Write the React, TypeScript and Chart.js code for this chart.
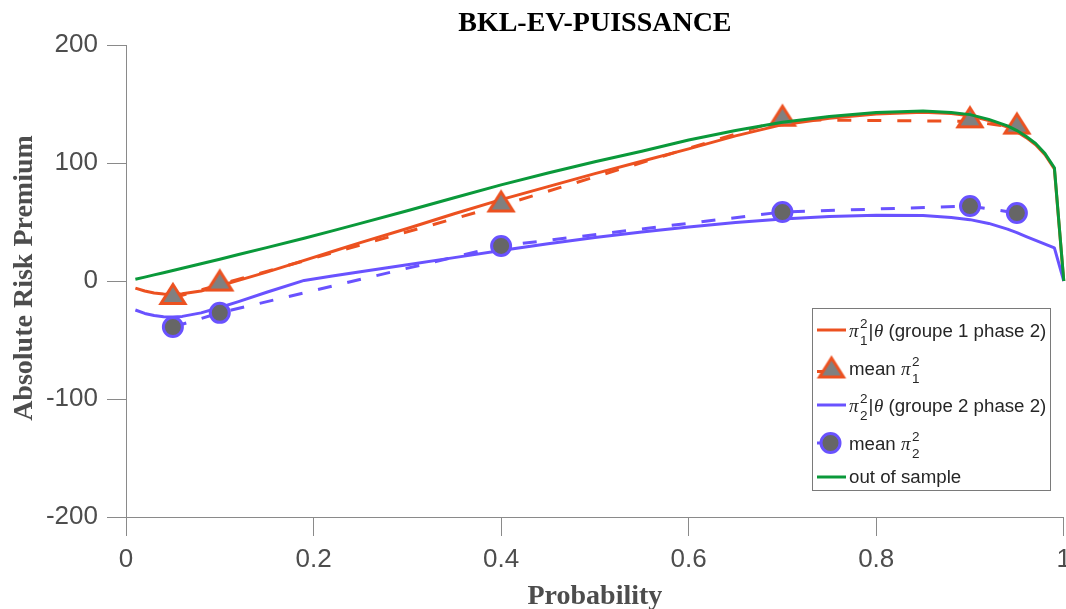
import React, { useEffect, useRef } from 'react';
import { Chart, registerables } from 'chart.js';

Chart.register(...registerables);

const chartTitle = 'BKL-EV-PUISSANCE';
const xAxisTitle = 'Probability';
const yAxisTitle = 'Absolute Risk Premium';

const xTickValues = [0, 0.2, 0.4, 0.6, 0.8, 1];
const xTickLabels = ['0', '0.2', '0.4', '0.6', '0.8', '1'];
const yTickValues = [-200, -100, 0, 100, 200];
const yTickLabels = ['-200', '-100', '0', '100', '200'];

const probGrid = [0.01, 0.02, 0.03, 0.04, 0.05, 0.06, 0.08, 0.1, 0.12, 0.15, 0.19, 0.22, 0.25, 0.3, 0.35, 0.4, 0.45, 0.5, 0.55, 0.6, 0.65, 0.7, 0.75, 0.8, 0.85, 0.88, 0.9, 0.92, 0.94, 0.95, 0.96, 0.97, 0.98, 0.99, 1];
const outOfSample = [1.5, 3.3, 5.2, 7, 8.9, 10.8, 14.6, 18.5, 22.4, 28.3, 36.2, 42.5, 48.8, 59.5, 70.5, 81.5, 91.5, 101, 110, 119.5, 127.5, 134.5, 139.5, 142.8, 144, 142.8, 141, 137, 131.5, 127.5, 122.5, 116.5, 108, 96, 0];
const pi1GivenTheta = [-6, -8.5, -10.2, -11, -11.2, -10.8, -8.5, -4, 0.5, 7.5, 17.5, 25, 32.5, 44.5, 57, 69, 80, 91, 101.5, 112, 123, 132.5, 138, 141.5, 143, 142, 140, 136, 130.5, 126.5, 121.5, 115.5, 107, 95, 0];
const pi2GivenTheta = [-24.6, -27.5, -29.3, -30.3, -30.5, -30, -27, -22.5, -17.5, -9.5, 0.5, 4.2, 7.8, 13.8, 19.8, 25.8, 31.5, 36.8, 41.5, 45.8, 49.5, 52.5, 54.7, 55.8, 55.5, 53.8, 52, 48.8, 44, 41, 37.7, 34.5, 31.3, 28, 0];

const meanProb = [0.05, 0.1, 0.4, 0.7, 0.9, 0.95];
const meanPi1 = [-14.4, -3, 64, 136.7, 135.3, 130];
const meanPi2 = [-39, -27, 29.7, 58.5, 63.5, 57.6];

const ORANGE = '#EC5120';
const BLUE = '#6952FF';
const GREEN = '#0A993A';
const AXIS = '#8a8a8a';
const TICK_TEXT = '#4d4d4d';

const SANS = '"Liberation Sans", Arial, Helvetica, sans-serif';
const SERIF = '"Liberation Serif", "Times New Roman", serif';

const pts = (xs: number[], ys: number[]) => xs.map((x, i) => ({ x, y: ys[i] }));

function makeTriangle(): HTMLCanvasElement {
  const c = document.createElement('canvas');
  c.width = 34;
  c.height = 36;
  const g = c.getContext('2d')!;
  g.beginPath();
  g.moveTo(17, 4.5);
  g.lineTo(29, 23.5);
  g.lineTo(5, 23.5);
  g.closePath();
  g.fillStyle = '#808080';
  g.fill();
  g.lineWidth = 3;
  g.lineJoin = 'miter';
  g.strokeStyle = ORANGE;
  g.stroke();
  return c;
}

export default function App() {
  const ref = useRef<HTMLCanvasElement>(null);

  useEffect(() => {
    const canvas = ref.current!;
    const tri = makeTriangle();

    const overlay = {
      id: 'overlay',
      afterDraw(chart: any) {
        const { ctx, chartArea } = chart;
        const cx = (chartArea.left + chartArea.right) / 2;
        ctx.save();
        ctx.textAlign = 'center';
        ctx.textBaseline = 'alphabetic';
        ctx.font = `bold 28px ${SERIF}`;
        ctx.fillStyle = '#000000';
        ctx.fillText(chartTitle, cx, 31);
        ctx.fillStyle = TICK_TEXT;
        ctx.fillText(xAxisTitle, cx, 604);
        ctx.save();
        ctx.translate(32, 278);
        ctx.rotate(-Math.PI / 2);
        ctx.fillText(yAxisTitle, 0, 0);
        ctx.restore();

        // legend box
        ctx.fillStyle = '#ffffff';
        ctx.fillRect(812.5, 308.5, 238, 182);
        ctx.strokeStyle = '#7a7a7a';
        ctx.lineWidth = 1;
        ctx.strokeRect(812.5, 308.5, 238, 182);

        ctx.textAlign = 'left';
        const txt = '#262626';
        const fs = 18.7;
        const drawPi = (x: number, base: number, sub: string) => {
          ctx.fillStyle = txt;
          ctx.font = `italic 19px ${SERIF}`;
          ctx.fillText('π', x, base);
          const w = ctx.measureText('π').width;
          ctx.font = `13.5px ${SANS}`;
          ctx.fillText('2', x + w + 1.5, base - 9);
          ctx.fillText(sub, x + w + 1.5, base + 7.5);
          return x + w + 1.5 + ctx.measureText('2').width;
        };
        const drawCond = (x0: number, base: number, sub: string, rest: string) => {
          let x = drawPi(x0, base, sub);
          ctx.font = `${fs}px ${SANS}`;
          ctx.fillText('|', x + 1, base);
          x += 1 + ctx.measureText('|').width;
          ctx.font = `italic 19px ${SERIF}`;
          ctx.fillText('θ', x + 0.5, base);
          x += 0.5 + ctx.measureText('θ').width;
          ctx.font = `${fs}px ${SANS}`;
          ctx.fillText(rest, x, base);
        };
        const sample = (y: number, color: string, dash: number[]) => {
          ctx.save();
          ctx.strokeStyle = color;
          ctx.lineWidth = 3;
          ctx.setLineDash(dash);
          ctx.beginPath();
          ctx.moveTo(817, y);
          ctx.lineTo(846, y);
          ctx.stroke();
          ctx.restore();
        };

        // row 1
        sample(330, ORANGE, []);
        drawCond(849, 337, '1', ' (groupe 1 phase 2)');
        // row 2
        sample(371.5, ORANGE, [14, 16]);
        ctx.drawImage(tri, 831.5 - tri.width / 2, 371.5 - tri.height / 2);
        ctx.fillStyle = txt;
        ctx.font = `${fs}px ${SANS}`;
        ctx.fillText('mean ', 849, 375);
        drawPi(849 + ctx.measureText('mean ').width, 375, '1');
        // row 3
        sample(405, BLUE, []);
        drawCond(849, 412, '2', ' (groupe 2 phase 2)');
        // row 4
        sample(443, BLUE, [14, 16]);
        ctx.beginPath();
        ctx.arc(830.5, 443, 9.5, 0, Math.PI * 2);
        ctx.fillStyle = '#666666';
        ctx.fill();
        ctx.lineWidth = 3;
        ctx.strokeStyle = BLUE;
        ctx.stroke();
        ctx.fillStyle = txt;
        ctx.font = `${fs}px ${SANS}`;
        ctx.fillText('mean ', 849, 450);
        drawPi(849 + ctx.measureText('mean ').width, 450, '2');
        // row 5
        sample(477, GREEN, []);
        ctx.fillStyle = txt;
        ctx.font = `${fs}px ${SANS}`;
        ctx.fillText('out of sample', 849, 483);
        ctx.restore();
      },
    };

    const lineBase = {
      showLine: true,
      borderWidth: 3,
      pointRadius: 0,
      tension: 0,
      borderJoinStyle: 'round',
      clip: false,
    };

    const chart = new Chart(canvas, {
      type: 'scatter',
      data: {
        datasets: [
          {
            ...lineBase,
            label: 'out of sample',
            data: pts(probGrid, outOfSample),
            borderColor: GREEN,
            order: 0,
          },
          {
            label: 'mean pi2',
            data: pts(meanProb, meanPi2),
            showLine: true,
            borderColor: BLUE,
            borderWidth: 3,
            borderDash: [14, 16],
            pointStyle: 'circle',
            pointRadius: 9.5,
            pointBackgroundColor: '#666666',
            pointBorderColor: BLUE,
            pointBorderWidth: 3,
            order: 1,
            clip: false,
          },
          {
            ...lineBase,
            label: 'pi2|theta (groupe 2 phase 2)',
            data: pts(probGrid, pi2GivenTheta),
            borderColor: BLUE,
            order: 2,
          },
          {
            label: 'mean pi1',
            data: pts(meanProb, meanPi1),
            showLine: true,
            borderColor: ORANGE,
            borderWidth: 3,
            borderDash: [14, 16],
            pointStyle: tri,
            pointRadius: 12,
            order: 3,
            clip: false,
          },
          {
            ...lineBase,
            label: 'pi1|theta (groupe 1 phase 2)',
            data: pts(probGrid, pi1GivenTheta),
            borderColor: ORANGE,
            order: 4,
          },
        ] as any,
      },
      options: {
        responsive: false,
        animation: false,
        events: [],
        layout: { padding: { top: 45, right: 0, left: 0, bottom: 0 } },
        plugins: {
          legend: { display: false },
          title: { display: false },
          tooltip: { enabled: false },
        },
        scales: {
          x: {
            type: 'linear',
            min: 0,
            max: 1,
            afterBuildTicks: (s: any) => {
              s.ticks = xTickValues.map((v) => ({ value: v }));
            },
            afterFit: (s: any) => {
              s.height = 92;
            },
            ticks: {
              autoSkip: false,
              maxRotation: 0,
              padding: 8,
              color: TICK_TEXT,
              font: { family: SANS, size: 26 },
              callback: (v: any) => xTickLabels[xTickValues.indexOf(Number(v))] ?? '',
            },
            grid: { drawOnChartArea: false, drawTicks: true, tickLength: 19, color: AXIS, lineWidth: 1 },
            border: { display: true, color: AXIS, width: 1 },
          },
          y: {
            type: 'linear',
            min: -200,
            max: 200,
            afterBuildTicks: (s: any) => {
              s.ticks = yTickValues.map((v) => ({ value: v }));
            },
            afterFit: (s: any) => {
              s.width = 126;
            },
            ticks: {
              autoSkip: false,
              padding: 9,
              color: TICK_TEXT,
              font: { family: SANS, size: 26 },
              callback: (v: any) => yTickLabels[yTickValues.indexOf(Number(v))] ?? '',
            },
            grid: { drawOnChartArea: false, drawTicks: true, tickLength: 19, color: AXIS, lineWidth: 1 },
            border: { display: true, color: AXIS, width: 1 },
          },
        },
      } as any,
      plugins: [overlay],
    });

    return () => chart.destroy();
  }, []);

  return (
    <div style={{ position: 'absolute', left: 0, top: 0, width: 1066, height: 609, overflow: 'hidden', background: '#ffffff' }}>
      <canvas ref={ref} width={1079} height={609} style={{ display: 'block' }} />
    </div>
  );
}
